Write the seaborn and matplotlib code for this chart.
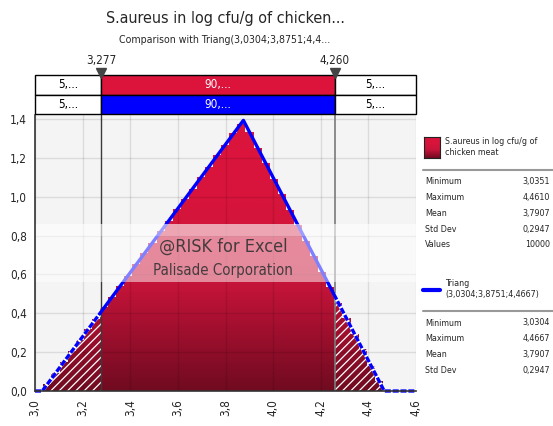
import numpy as np
import matplotlib
matplotlib.use('Agg')
import matplotlib.pyplot as plt
import seaborn as sns
from matplotlib.path import Path
from matplotlib.patches import Rectangle
from matplotlib.colors import LinearSegmentedColormap

# histogram of simulated values (density)
bin_start = 3.0351
bin_width = 0.03395
densities = [0.038, 0.094, 0.151, 0.206, 0.262, 0.319, 0.370, 0.431, 0.486, 0.541,
             0.592, 0.655, 0.709, 0.760, 0.822, 0.873, 0.934, 0.989, 1.041, 1.103,
             1.152, 1.214, 1.265, 1.326, 1.372, 1.335, 1.250, 1.175, 1.090, 1.015,
             0.930, 0.856, 0.771, 0.695, 0.611, 0.535, 0.452, 0.376, 0.291, 0.215,
             0.131, 0.054]

# fitted triangular distribution
tri_x = [3.0, 3.0304, 3.8751, 4.4667, 4.6]
tri_y = [0.0, 0.0, 1.3925, 0.0, 0.0]

# delimiters and band percentages
left_mark = 3.277
right_mark = 4.260
left_lbl, right_lbl = '3,277', '4,260'
band_labels = ['5,...', '90,...', '5,...']

sim_name = 'S.aureus in log cfu/g of\nchicken meat'
sim_stats = [('Minimum', '3,0351'), ('Maximum', '4,4610'), ('Mean', '3,7907'),
             ('Std Dev', '0,2947'), ('Values', '10000')]
fit_name = 'Triang\n(3,0304;3,8751;4,4667)'
fit_stats = [('Minimum', '3,0304'), ('Maximum', '4,4667'), ('Mean', '3,7907'),
             ('Std Dev', '0,2947')]

sns.set_style('white')
plt.rcParams['font.family'] = ['DejaVu Sans']
plt.rcParams['font.stretch'] = 'condensed'
plt.rcParams['hatch.linewidth'] = 0.9
plt.rcParams['hatch.color'] = 'white'

W, H = 553, 426
fig = plt.figure(figsize=(W / 100, H / 100), dpi=100)

def fx(px):
    return px / W

def fy(py):
    return 1 - py / H

ax_l, ax_r, ax_t, ax_b = 35, 416, 115, 391
ax = fig.add_axes([fx(ax_l), fy(ax_b), fx(ax_r) - fx(ax_l), fy(ax_t) - fy(ax_b)])
ax.set_facecolor('#f4f4f4')
ax.set_xlim(3.0, 4.6)
ax.set_ylim(0, 1.42)
xt = np.arange(3.0, 4.61, 0.2)
yt = np.arange(0, 1.41, 0.2)
ax.set_xticks(xt)
ax.set_yticks(yt)
ax.set_xticklabels([f'{v:.1f}'.replace('.', ',') for v in xt], rotation=90, fontsize=8.5)
ax.set_yticklabels([f'{v:.1f}'.replace('.', ',') for v in yt], fontsize=8.5)
ax.grid(True, color='black', alpha=0.1, lw=1)
ax.set_axisbelow(False)
ax.tick_params(axis='both', length=4, width=1, color='#333333', pad=2, direction='out')
for s in ['top', 'right']:
    ax.spines[s].set_visible(False)
for s in ['left', 'bottom']:
    ax.spines[s].set_color('#333333')
    ax.spines[s].set_linewidth(1.2)
    ax.spines[s].set_zorder(9)

# bars (invisible) used as a clip path for the gradient fill
lefts = [bin_start + i * bin_width for i in range(len(densities))]
bars = ax.bar(lefts, densities, width=bin_width, align='edge', color='none',
              edgecolor='none', zorder=2)
paths = [b.get_path().transformed(b.get_patch_transform()) for b in bars]
hist_path = Path.make_compound_path(*paths)

cmap = LinearSegmentedColormap.from_list(
    'red', [(0, '#700b20'), (0.2, '#9c0f2d'), (0.4, '#c8143a'), (0.7, '#d8143c'), (1, '#dc143c')])
grad = np.linspace(0, 1, 256).reshape(-1, 1)
im = ax.imshow(grad, extent=[3.0, 4.6, 0, 1.42], origin='lower', aspect='auto',
               cmap=cmap, zorder=2)
im.set_clip_path(hist_path, ax.transData)

# hatch on the tails
for x0, x1 in [(3.0, left_mark), (right_mark, 4.6)]:
    r = Rectangle((x0, 0), x1 - x0, 1.42, facecolor='none', edgecolor='white',
                  lw=0, hatch='////', zorder=3)
    ax.add_patch(r)
    r.set_clip_path(hist_path, ax.transData)

# delimiter lines
ax.axvline(left_mark, color='#3a3a3a', lw=1, zorder=4)
ax.axvline(right_mark, color='#7a7a7a', lw=1.2, zorder=4)

# triangular fit line: solid inside, dashed in tails
inside = Rectangle((left_mark, -1), right_mark - left_mark, 3, transform=ax.transData)
sns.lineplot(x=tri_x, y=tri_y, ax=ax, color='blue', lw=2.4, zorder=5)
ax.lines[-1].set_clip_path(inside)
for x0, x1 in [(2.9, left_mark), (right_mark, 4.7)]:
    clip = Rectangle((x0, -1), x1 - x0, 3, transform=ax.transData)
    l1, = ax.plot(tri_x, tri_y, color='white', lw=2.4, zorder=5)
    l1.set_clip_path(clip)
    l2, = ax.plot(tri_x, tri_y, color='blue', lw=2.4, zorder=6, dashes=(1.8, 0.55))
    l2.set_clip_path(clip)

# watermark band
ax.axhspan(0.80, 0.86, color='white', alpha=0.62, zorder=7, lw=0)
ax.axhspan(0.561, 0.80, color='white', alpha=0.5, zorder=7, lw=0)
ax.text(3.79, 0.74, '@RISK for Excel', ha='center', va='center', fontsize=13,
        color='#333333', alpha=0.9, zorder=8)
ax.text(3.79, 0.62, 'Palisade Corporation', ha='center', va='center', fontsize=10.8,
        color='#333333', alpha=0.9, zorder=8)

# percentage bands above the plot
bax = fig.add_axes([fx(ax_l), fy(114), fx(ax_r) - fx(ax_l), fy(75) - fy(114)])
bax.set_xlim(3.0, 4.6)
bax.set_ylim(0, 2)
bax.axis('off')
edges = [3.0, left_mark, right_mark, 4.6]
for row, mid_color in [(1, '#dc143c'), (0, '#0000ff')]:
    for i in range(3):
        fc = mid_color if i == 1 else 'white'
        bax.add_patch(Rectangle((edges[i], row), edges[i + 1] - edges[i], 1,
                                facecolor=fc, edgecolor='black', lw=1, clip_on=False))
        bax.text((edges[i] + edges[i + 1]) / 2, row + 0.5, band_labels[i],
                 ha='center', va='center', fontsize=8.5,
                 color='white' if i == 1 else 'black')
for xm, lbl in [(left_mark, left_lbl), (right_mark, right_lbl)]:
    bax.plot([xm], [2.12], marker='v', ms=7, color='#444444', clip_on=False)
    bax.text(xm, 2.4, lbl, ha='center', va='bottom', fontsize=8.5, clip_on=False)

# titles
fig.text(fx(225), fy(19), 'S.aureus in log cfu/g of chicken...', ha='center',
         va='center', fontsize=11.5)
fig.text(fx(225), fy(40), 'Comparison with Triang(3,0304;3,8751;4,4...', ha='center',
         va='center', fontsize=7.6)

# legend / statistics panel
sax = fig.add_axes([fx(424), fy(158), fx(440) - fx(424), fy(137) - fy(158)])
sax.imshow(grad, origin='lower', aspect='auto', cmap=cmap)
sax.set_xticks([])
sax.set_yticks([])
for s in sax.spines.values():
    s.set_color('#222222')
fs = 6.4
fig.text(fx(445), fy(147), sim_name, ha='left', va='center', fontsize=fs,
         linespacing=1.35)
fig.add_artist(plt.Line2D([fx(423), fx(553)], [fy(170), fy(170)], color='#999999', lw=1.5))
for i, (k, v) in enumerate(sim_stats):
    y = fy(182 + i * 15.7)
    fig.text(fx(425), y, k, ha='left', va='center', fontsize=fs)
    fig.text(fx(550), y, v, ha='right', va='center', fontsize=fs)

fig.add_artist(plt.Line2D([fx(423), fx(440)], [fy(290), fy(290)], color='blue', lw=3))
fig.text(fx(445), fy(289), fit_name, ha='left', va='center', fontsize=fs,
         linespacing=1.35)
fig.add_artist(plt.Line2D([fx(423), fx(553)], [fy(311), fy(311)], color='#999999', lw=1.5))
for i, (k, v) in enumerate(fit_stats):
    y = fy(323 + i * 15.7)
    fig.text(fx(425), y, k, ha='left', va='center', fontsize=fs)
    fig.text(fx(550), y, v, ha='right', va='center', fontsize=fs)

fig.savefig('out.png', dpi=100)
